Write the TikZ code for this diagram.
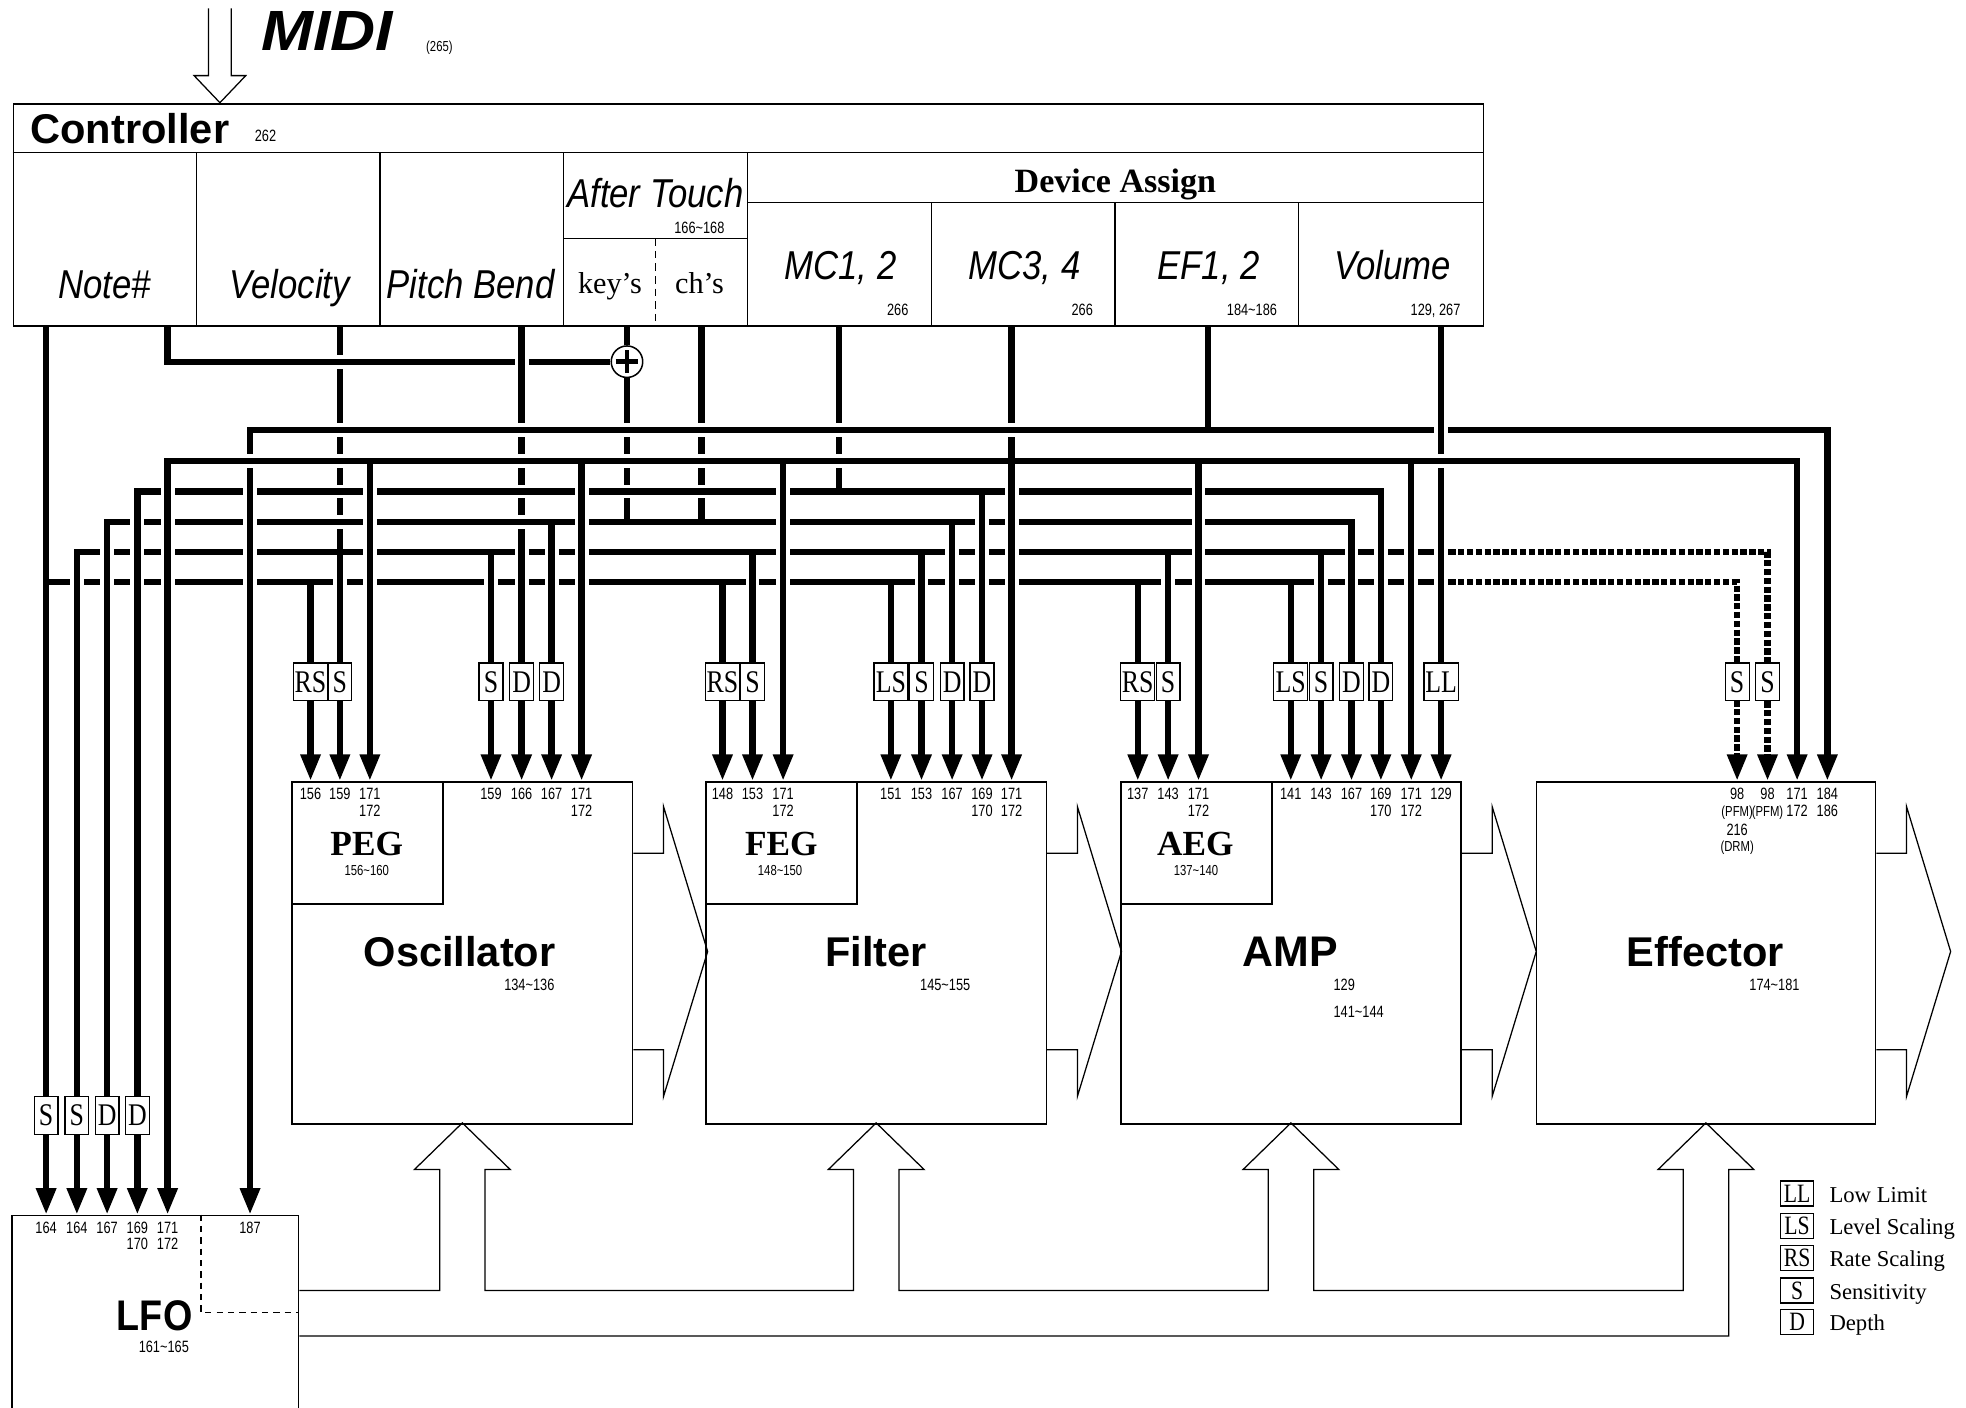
\documentclass[tikz,border=0pt]{standalone}
\usepackage{fontspec}
\setmainfont{Liberation Serif}
\newfontfamily\headfont{Liberation Sans}
\newfontfamily\condhead[FakeStretch=0.88]{Liberation Sans}
\newfontfamily\labfont[FakeStretch=0.86]{Liberation Sans}
\newfontfamily\numfont[FakeStretch=0.78]{Liberation Sans}
\newfontfamily\midifont[FakeStretch=1.1]{Liberation Sans}
\newfontfamily\boxfont[FakeStretch=0.82]{Liberation Serif}
\usetikzlibrary{arrows.meta,positioning}

\begin{document}
\begin{tikzpicture}[x=1pt,y=-1pt]
  \tikzset{
    wire/.style={line width=5pt,
      preaction={draw=white,solid,-,line width=11pt,shorten <=6pt,shorten >=6pt}},
    feed/.style={wire,-{Triangle[length=21pt,width=15pt]}},
    pfm/.style={dash pattern=on 5pt off 2pt},
    frame/.style={draw,line width=1.3pt,inner sep=0pt},
    thin/.style={line width=1pt},
    parbox/.style={draw,fill=white,line width=1pt,minimum width=19pt,minimum height=30pt,
      inner sep=0pt,font=\boxfont\fontsize{25}{25}\selectfont},
    wide/.style={parbox,minimum width=27pt},
    num/.style={anchor=base,inner sep=0pt,font=\numfont\fontsize{13}{13}\selectfont},
    tiny/.style={num,font=\numfont\fontsize{11.5}{11.5}\selectfont},
    cell/.style={anchor=base,inner sep=0pt,font=\labfont\itshape\fontsize{32}{32}\selectfont},
    title/.style={anchor=base,inner sep=0pt,font=\headfont\bfseries\fontsize{33}{33}\selectfont},
    eg/.style={anchor=base,inner sep=0pt,font=\bfseries\fontsize{28}{28}\selectfont},
    legbox/.style={draw,line width=1pt,minimum width=26pt,minimum height=20pt,inner sep=0pt,
      font=\boxfont\fontsize{21}{21}\selectfont},
    legtext/.style={inner sep=0pt,font=\fontsize{18}{18}\selectfont}
  }
  \useasboundingbox (0,0) rectangle (1560,1117);

  \coordinate (cb) at (0,258);
  \foreach \r in {287,341,366,390,414,438,462} \coordinate (b\r) at (0,\r);
  \coordinate (boxrow) at (0,541);
  \coordinate (lforow) at (0,885);
  \coordinate (pipetop) at (0,1024);
  \coordinate (pipebot) at (0,1060);
  \coordinate (d462) at (1150,462);
  \coordinate (d438) at (1150,438);

  % MIDI in
  \draw[thin] (165.4,6.6) -- (165.4,60) -- (154,60) -- (174.5,81.5) -- (195,60) -- (183.5,60) -- (183.5,6.6);
  \node[anchor=base west,inner sep=0pt,font=\midifont\bfseries\itshape\fontsize{45}{45}\selectfont] (midi) at (207,40) {MIDI};
  \node[tiny,anchor=base west] (midi-n) at (338,40.5) {(265)};

  % controller
  \node[frame,minimum width=1166.4pt,minimum height=176pt,anchor=north west] (ctrl) at (10,82) {};
  \draw[frame] (10,121) -- (1176.4,121);
  \foreach \x in {155.8,301.6,447.4,593.2} \draw[thin] (\x,121) -- (\x,258);
  \draw[thin] (593.2,160.6) -- (1176.4,160.6);
  \foreach \x in {739,884.8,1030.6} \draw[thin] (\x,160.6) -- (\x,258);
  \draw[thin] (447.4,189) -- (593.2,189);
  \draw[thin,dash pattern=on 6pt off 4pt] (520.3,189) -- (520.3,258);

  \node[title,anchor=base west] (ctrl-t) at (24,114) {Controller};
  \node[num,anchor=base west] (ctrl-n) at (202,112) {262};
  \node[cell] (note) at (83,237) {Note\#};
  \node[cell] (velo) at (230,237) {Velocity};
  \node[cell] (bend) at (373.5,237) {Pitch Bend};
  \node[cell] (after) at (520,165) {After Touch};
  \node[num,anchor=base east] (after-n) at (575,185) {166\textasciitilde 168};
  \node[anchor=base,inner sep=0pt,font=\fontsize{24}{24}\selectfont] (keyt) at (484,233) {key’s};
  \node[anchor=base,inner sep=0pt,font=\fontsize{24}{24}\selectfont] (cht) at (555,233) {ch’s};
  \node[anchor=base,inner sep=0pt,font=\bfseries\fontsize{27}{27}\selectfont] (dev) at (885,153) {Device Assign};
  \node[cell] (mc1) at (667,222) {MC1, 2};
  \node[cell] (mc3) at (813,222) {MC3, 4};
  \node[cell] (ef1) at (959,222) {EF1, 2};
  \node[cell] (vol) at (1105,222) {Volume};
  \node[num,anchor=base east] (mc1-n) at (721,250) {266};
  \node[num,anchor=base east] (mc3-n) at (867.4,250) {266};
  \node[num,anchor=base east] (ef1-n) at (1013.5,250) {184\textasciitilde 186};
  \node[num,anchor=base east] (vol-n) at (1159,250) {129, 267};

  % blocks
  \node[frame,minimum width=270pt,minimum height=271.4pt,anchor=north west] (osc) at (231.2,619.6) {};
  \node[frame,minimum width=270pt,minimum height=271.4pt,anchor=north west] (filt) at (559.6,619.6) {};
  \node[frame,minimum width=270pt,minimum height=271.4pt,anchor=north west] (amp) at (888.7,619.6) {};
  \node[frame,minimum width=269pt,minimum height=271.4pt,anchor=north west] (eff) at (1218.5,619.6) {};
  \node[frame,minimum width=119.8pt,minimum height=96.8pt,anchor=north west] (peg) at (osc.north west) {};
  \node[frame,minimum width=119.8pt,minimum height=96.8pt,anchor=north west] (feg) at (filt.north west) {};
  \node[frame,minimum width=119.8pt,minimum height=96.8pt,anchor=north west] (aeg) at (amp.north west) {};
  \node[frame,minimum width=227.5pt,minimum height=180pt,anchor=north west] (lfo) at (8.7,963.8) {};
  \draw[thin,dash pattern=on 5pt off 4pt] (159.5,963.8) |- (236.2,1041.5);

  \foreach \b in {osc,filt,amp,eff}
    \draw[thin] (\b.north east) ++(0,57.4) -- ++(24,0) -- ++(0,-37) -- ++(35,115)
      -- ++(-35,115) -- ++(0,-37) -- ++(-24,0);

  \foreach \b in {osc,filt,amp,eff} \coordinate (\b-up) at (\b.south |- pipetop);
  \draw[thin] (lfo.east |- pipetop)
    -- ([xshift=-18pt]osc-up) -- ++(0,-96) -- ++(-20,0) -- ++(38,-37) -- ++(38,37) -- ++(-20,0) -- ++(0,96)
    -- ([xshift=-18pt]filt-up) -- ++(0,-96) -- ++(-20,0) -- ++(38,-37) -- ++(38,37) -- ++(-20,0) -- ++(0,96)
    -- ([xshift=-18pt]amp-up) -- ++(0,-96) -- ++(-20,0) -- ++(38,-37) -- ++(38,37) -- ++(-20,0) -- ++(0,96)
    -- ([xshift=-18pt]eff-up) -- ++(0,-96) -- ++(-20,0) -- ++(38,-37) -- ++(38,37) -- ++(-20,0) -- ++(0,132)
    -- (lfo.east |- pipebot);

  \node[title] (osc-t) at (364.7,767) {Oscillator};
  \node[num] (osc-n) at (420,786) {134\textasciitilde 136};
  \node[title] (filt-t) at (695,767) {Filter};
  \node[num] (filt-n) at (750,786) {145\textasciitilde 155};
  \node[title,font=\headfont\bfseries\fontsize{34}{34}\selectfont] (amp-t) at (1024,767) {AMP};
  \node[num,anchor=base west] (amp-n) at (1058,786) {129};
  \node[num,anchor=base west] (amp-m) at (1058,807) {141\textasciitilde 144};
  \node[title] (eff-t) at (1353,767) {Effector};
  \node[num] (eff-n) at (1408,786) {174\textasciitilde 181};
  \node[eg] (peg-t) at (291,678.6) {PEG};
  \node[tiny] (peg-n) at (291,694.5) {156\textasciitilde 160};
  \node[eg] (feg-t) at (620,678.6) {FEG};
  \node[tiny] (feg-n) at (619,694.5) {148\textasciitilde 150};
  \node[eg] (aeg-t) at (948.5,678.6) {AEG};
  \node[tiny] (aeg-n) at (949,694.5) {137\textasciitilde 140};
  \node[title,font=\condhead\bfseries\fontsize{34}{34}\selectfont] (lfo-t) at (122.7,1055.6) {LFO};
  \node[num] (lfo-n) at (130,1072.8) {161\textasciitilde 165};

  % inputs
  \foreach \n/\x in {peg1/246.4,peg2/269.7,peg3/293.5,osc1/389.6,osc2/413.9,osc3/437.7,osc4/461.5,
      feg1/573.3,feg2/597.1,feg3/621.4,fil1/706.9,fil2/731.2,fil3/755.5,fil4/779.2,fil5/802.7,
      aeg1/902.8,aeg2/926.9,aeg3/951,amp1/1024.2,amp2/1048.3,amp3/1072.4,amp4/1095.7,amp5/1119.8,
      amp6/1143.5,eff1/1378.4,eff2/1402.5,eff3/1426,eff4/1450}
    \coordinate (\n) at (\x,619.6);
  \foreach \n/\x in {lfo1/36.6,lfo2/61,lfo3/85,lfo4/109,lfo5/133,lfo6/198.4}
    \coordinate (\n) at (\x,963.8);
  \coordinate (keys) at (497.5,258);
  \coordinate (chs) at (556.7,258);
  \coordinate (mc12) at (665.5,258);
  \coordinate (ef12) at (958.4,258);
  \coordinate (noteb) at (133,258);
  \node[circle,draw,fill=white,line width=1.2pt,minimum size=25pt,inner sep=0pt] (plus) at (497.5,287) {};
  \draw[line width=3.5pt] ([xshift=-9pt]plus.center) -- ([xshift=9pt]plus.center);
  \draw[line width=3.5pt] ([yshift=-9pt]plus.center) -- ([yshift=9pt]plus.center);

  % wires, lowest first
  \draw[feed] (lfo1 |- cb) -- (lfo1);
  \draw[wire] (lfo1 |- b462) -- (d462);
  \draw[feed,pfm] (d462) -| (eff1);
  \foreach \p in {peg1,feg1,fil1,aeg1,amp1} \draw[feed] (\p |- b462) -- (\p);
  \draw[feed] (peg2 |- b438) -| (lfo2);
  \draw[wire] (peg2 |- b438) -- (d438);
  \draw[feed,pfm] (d438) -| (eff2);
  \foreach \p in {osc1,feg2,fil2,aeg2,amp2} \draw[feed] (\p |- b438) -- (\p);
  \draw[wire] (peg2 |- cb) -- (peg2 |- b438);
  \draw[feed] (peg2 |- b438) -- (peg2);
  \draw[wire] (noteb) |- (plus.west);
  \draw[feed] (osc2 |- cb) -- (osc2);
  \draw[feed] (plus |- b414) -| (lfo3);
  \draw[feed] (plus |- b414) -| (amp3);
  \foreach \p in {osc3,fil3} \draw[feed] (\p |- b414) -- (\p);
  \draw[wire] (keys) -- (plus);
  \draw[wire] (plus) -- (plus |- b414);
  \draw[wire] (chs) -- (chs |- b414);
  \draw[feed] (mc12 |- b390) -| (lfo4);
  \draw[feed] (mc12 |- b390) -| (amp4);
  \draw[feed] (fil4 |- b390) -- (fil4);
  \draw[wire] (mc12) -- (mc12 |- b390);
  \draw[wire] (fil5 |- cb) -- (fil5 |- b366);
  \draw[feed] (fil5 |- b366) -- (fil5);
  \draw[feed] (ef12 |- b341) -| (lfo6);
  \draw[feed] (ef12 |- b341) -| (eff4);
  \draw[wire] (ef12) -- (ef12 |- b341);
  \draw[feed] (amp6 |- cb) -- (amp6);
  \draw[feed] (fil5 |- b366) -| (lfo5);
  \draw[feed] (fil5 |- b366) -| (eff3);
  \foreach \p in {peg3,osc4,feg3,aeg3,amp5} \draw[feed] (\p |- b366) -- (\p);

  % scaling boxes
  \foreach \p/\t in {peg1/RS,feg1/RS,aeg1/RS,fil1/LS,amp1/LS,amp6/LL}
    \node[wide] (\p-box) at (\p |- boxrow) {\t};
  \foreach \p/\t in {peg2/S,osc1/S,osc2/D,osc3/D,feg2/S,fil2/S,fil3/D,fil4/D,aeg2/S,amp2/S,amp3/D,amp4/D,eff1/S,eff2/S}
    \node[parbox] (\p-box) at (\p |- boxrow) {\t};
  \foreach \p/\t in {lfo1/S,lfo2/S,lfo3/D,lfo4/D}
    \node[parbox] (\p-box) at (\p |- lforow) {\t};

  % parameter numbers
  \foreach \p/\t in {peg1/156,peg2/159,peg3/171,osc1/159,osc2/166,osc3/167,osc4/171,feg1/148,feg2/153,
      feg3/171,fil1/151,fil2/153,fil3/167,fil4/169,fil5/171,aeg1/137,aeg2/143,aeg3/171,amp1/141,amp2/143,
      amp3/167,amp4/169,amp5/171,amp6/129,eff1/98,eff2/98,eff3/171,eff4/184,lfo1/164,lfo2/164,lfo3/167,
      lfo4/169,lfo5/171,lfo6/187}
    \node[num] (\p-n1) at ([yshift=-15pt]\p) {\t};
  \foreach \p/\t in {peg3/172,osc4/172,feg3/172,fil4/170,fil5/172,aeg3/172,amp4/170,amp5/172,eff3/172,
      eff4/186,lfo4/170,lfo5/172}
    \node[num] (\p-n2) at ([yshift=-28pt]\p) {\t};
  \node[tiny] (eff1-n2) at ([yshift=-28pt]eff1) {(PFM)};
  \node[tiny] (eff2-n2) at ([yshift=-28pt]eff2) {(PFM)};
  \node[num] (eff1-n3) at ([yshift=-43pt]eff1) {216};
  \node[tiny] (eff1-n4) at ([yshift=-56pt]eff1) {(DRM)};

  % legend
  \node[legbox] (leg-ll) at (1426,947) {LL};
  \node[legbox] (leg-ls) at (1426,973) {LS};
  \node[legbox] (leg-rs) at (1426,998) {RS};
  \node[legbox] (leg-s) at (1426,1024) {S};
  \node[legbox] (leg-d) at (1426,1049) {D};
  \node[legtext,base right=12pt of leg-ll] (leg-llt) {Low Limit};
  \node[legtext,base right=12pt of leg-ls] (leg-lst) {Level Scaling};
  \node[legtext,base right=12pt of leg-rs] (leg-rst) {Rate Scaling};
  \node[legtext,base right=12pt of leg-s] (leg-st) {Sensitivity};
  \node[legtext,base right=12pt of leg-d] (leg-dt) {Depth};
\end{tikzpicture}
\end{document}
